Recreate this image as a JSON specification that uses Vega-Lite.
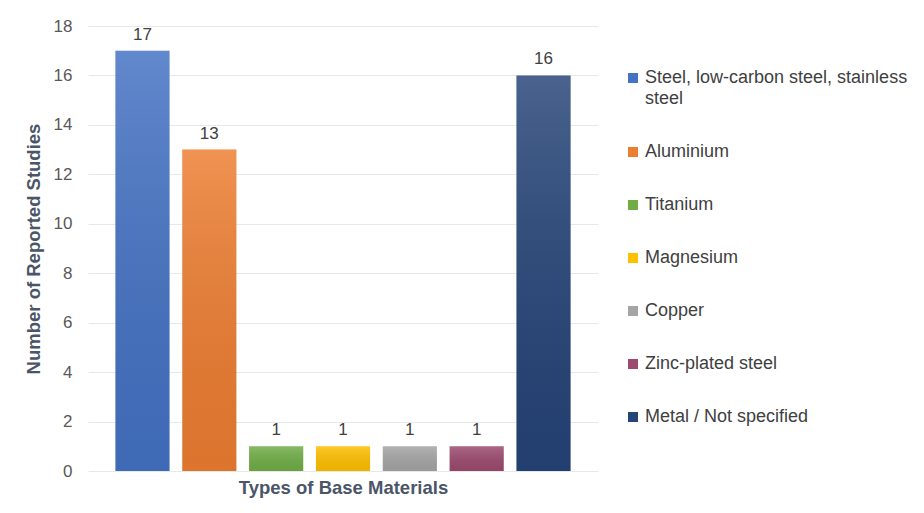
{
  "$schema": "https://vega.github.io/schema/vega-lite/v6.json",
  "width": 510,
  "height": 445,
  "autosize": {"type": "none"},
  "padding": {"left": 88, "top": 26, "right": 326, "bottom": 42},
  "background": "white",
  "config": {
    "font": "Liberation Sans",
    "view": {"stroke": null},
    "style": {"guide-label": {"lineHeight": 21}}
  },
  "data": {
    "values": [
      {"material": "Steel, low-carbon steel, stainless steel", "studies": 17},
      {"material": "Aluminium", "studies": 13},
      {"material": "Titanium", "studies": 1},
      {"material": "Magnesium", "studies": 1},
      {"material": "Copper", "studies": 1},
      {"material": "Zinc-plated steel", "studies": 1},
      {"material": "Metal / Not specified", "studies": 16}
    ]
  },
  "encoding": {
    "x": {
      "field": "material",
      "type": "nominal",
      "sort": null,
      "scale": {"paddingInner": 0.19, "paddingOuter": 0.41},
      "axis": {
        "title": "Types of Base Materials",
        "labels": false,
        "ticks": false,
        "domain": false,
        "titleFontSize": 18.5,
        "titleFontWeight": "bold",
        "titleColor": "#4a5568",
        "titlePadding": 7
      }
    },
    "y": {
      "field": "studies",
      "type": "quantitative",
      "scale": {"domain": [0, 18]},
      "axis": {
        "title": "Number of Reported Studies",
        "values": [0, 2, 4, 6, 8, 10, 12, 14, 16, 18],
        "ticks": false,
        "domain": false,
        "labelFontSize": 17,
        "labelColor": "#595959",
        "labelPadding": 16,
        "gridColor": "#e8e8e8",
        "titleFontSize": 18.5,
        "titleFontWeight": "bold",
        "titleColor": "#4a5568",
        "titlePadding": 10
      }
    }
  },
  "layer": [
    {
      "mark": {"type": "bar"},
      "encoding": {
        "color": {
          "field": "material",
          "type": "nominal",
          "sort": null,
          "scale": {
            "range": ["#4472c4", "#ed7d31", "#70ad47", "#ffc000", "#a5a5a5", "#9c4a6e", "#264478"]
          },
          "legend": {
            "title": null,
            "orient": "none",
            "legendX": 536,
            "legendY": 43,
            "symbolType": "square",
            "symbolSize": 100,
            "symbolStrokeWidth": 0,
            "labelFontSize": 18,
            "labelColor": "#404040",
            "labelLimit": 320,
            "labelOffset": 3,
            "rowPadding": 35,
            "labelExpr": "datum.label == 'Steel, low-carbon steel, stainless steel' ? ['Steel, low-carbon steel, stainless', 'steel'] : datum.label"
          }
        }
      }
    },
    {
      "mark": {
        "type": "bar",
        "color": {
          "gradient": "linear",
          "x1": 0, "y1": 0, "x2": 0, "y2": 1,
          "stops": [
            {"offset": 0, "color": "rgba(255,255,255,0.16)"},
            {"offset": 1, "color": "rgba(0,0,0,0.07)"}
          ]
        }
      },
      "encoding": {}
    },
    {
      "mark": {"type": "text", "dy": -16, "fontSize": 17, "color": "#404040"},
      "encoding": {"text": {"field": "studies", "type": "quantitative"}}
    }
  ]
}
